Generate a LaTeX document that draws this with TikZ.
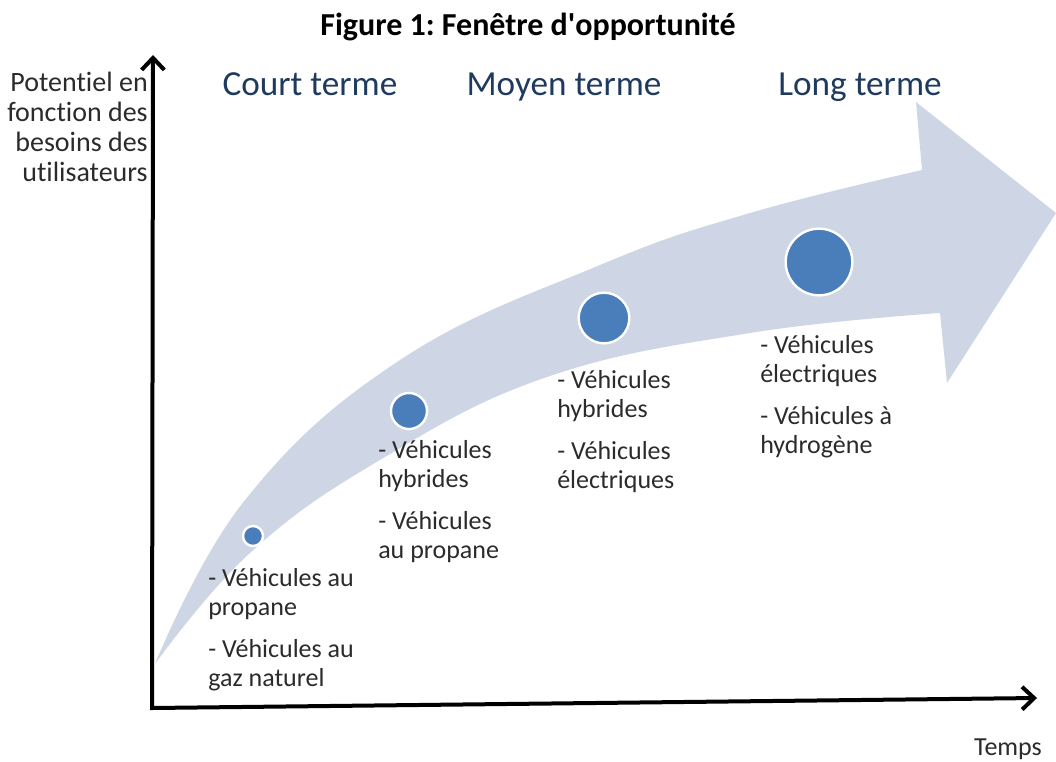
\documentclass[tikz,border=0pt]{standalone}
\usepackage{fontspec}
\setmainfont{Carlito}[Ligatures=NoCommon]
\usetikzlibrary{arrows.meta}
\definecolor{bandgrey}{HTML}{CED6E6}
\definecolor{dotblue}{HTML}{4A7EBB}
\definecolor{headnavy}{HTML}{1F3A5F}
\definecolor{bodygrey}{HTML}{2B2B2B}
\frenchspacing

\begin{document}
\begin{tikzpicture}[x=0.75pt, y=-0.75pt,
    dot/.style={circle, fill=dotblue, draw=white, line width=1.8pt, inner sep=0pt},
    phase/.style={anchor=base, text=headnavy, font=\fontsize{26.4}{30}\selectfont},
    item/.style={anchor=north west, align=left, inner sep=0pt, text=bodygrey,
      font=\fontsize{19.5}{21.75}\selectfont},
    axis/.style={line width=3pt,
      {Straight Barb[length=9pt,width=17pt]}-{Straight Barb[length=9pt,width=17pt]}}]
    \useasboundingbox (0,0) rectangle (1056,761);

    % the wide curved arrow
    \fill[bandgrey] plot[smooth, tension=0.7] coordinates
      {(155,664) (245,500) (400,360) (600,265) (750,213) (922,170)}
      -- (916,102) -- (1056,213) -- (947,383) -- (940,313)
      -- plot[smooth, tension=0.7] coordinates
      {(940,313) (750,333) (547,377) (380,460) (250,553) (155,664)} -- cycle;

    % axes
    \coordinate (origin) at (152,708);
    \coordinate (tend) at (1037,698);
    \coordinate (pend) at (153,55);
    \draw[axis] (tend) -- (origin) -- (pend);

    \node[anchor=base, font=\fontsize{24}{28}\selectfont\bfseries] (title) at (528,35)
      {Figure 1: Fenêtre d\textquotesingle opportunité};
    \node[anchor=north east, align=right, inner sep=0pt, text=bodygrey,
      font=\fontsize{21}{22.5}\selectfont] (potentiel) at (148,72)
      {Potentiel en\\fonction des\\besoins des\\utilisateurs};
    \node[anchor=base, inner sep=0pt, text=bodygrey, font=\fontsize{19.5}{22.5}\selectfont]
      (temps) at (1008,755) {Temps};

    \node[phase] (court) at (310,95) {Court terme};
    \node[phase] (moyen) at (564,95) {Moyen terme};
    \node[phase] (long) at (860,95) {Long terme};

    \node[dot, minimum size=15pt] (d1) at (253,536) {};
    \node[dot, minimum size=27pt] (d2) at (409,411) {};
    \node[dot, minimum size=38pt] (d3) at (604,318) {};
    \node[dot, minimum size=50pt] (d4) at (819,262) {};

    \node[item] (g1) at (208,568)
      {- Véhicules au\\propane\\[10pt]- Véhicules au\\gaz naturel};
    \node[item] (g2) at (378,440)
      {- Véhicules\\hybrides\\[10pt]- Véhicules\\au propane};
    \node[item] (g3) at (557,370)
      {- Véhicules\\hybrides\\[10pt]- Véhicules\\électriques};
    \node[item] (g4) at (760,335)
      {- Véhicules\\électriques\\[10pt]- Véhicules à\\hydrogène};
  \end{tikzpicture}
\end{document}
